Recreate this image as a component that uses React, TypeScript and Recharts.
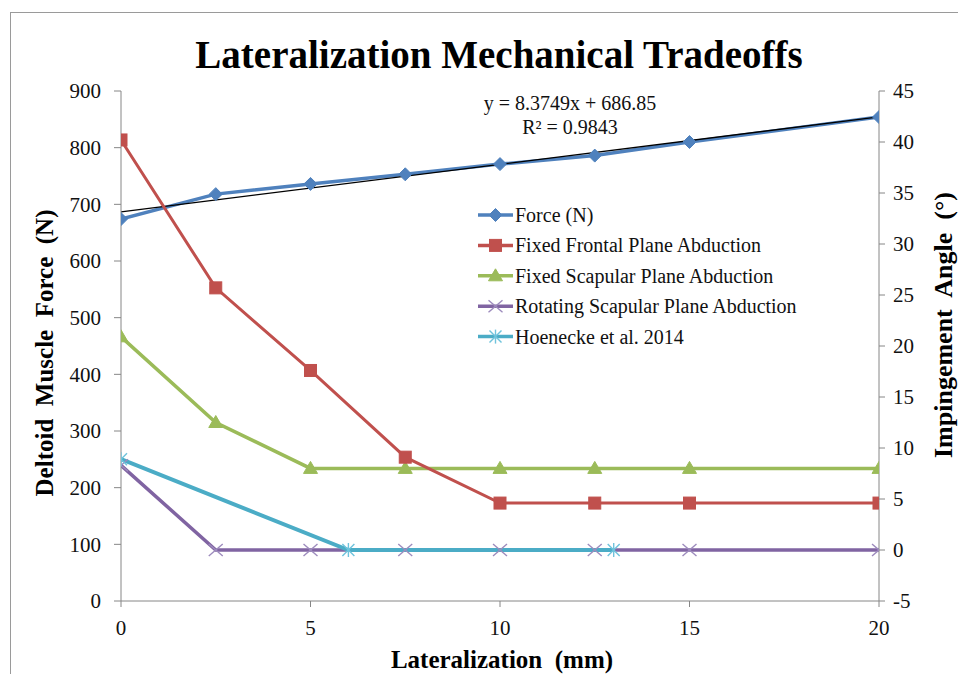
import React from 'react';
import { ComposedChart, Line, XAxis, YAxis, Legend } from 'recharts';

// ---- data ----
const lateralizationMm = [0, 2.5, 5, 7.5, 10, 12.5, 15, 20];
const forceN = [674, 718, 736, 753, 771, 786, 810, 854];
const fixedFrontalDeg = [40.2, 25.7, 17.6, 9.1, 4.6, 4.6, 4.6, 4.6];
const fixedScapularDeg = [20.9, 12.5, 8.0, 8.0, 8.0, 8.0, 8.0, 8.0];
const rotatingScapularDeg = [8.3, 0, 0, 0, 0, 0, 0, 0];
const hoeneckeMm = [0, 6, 13];
const hoeneckeDeg = [8.9, 0, 0];
const trendMm = [0, 20];
const trendForceN = [686.85, 854.35];

const xTicks = [0, 5, 10, 15, 20];
const leftTicks = [0, 100, 200, 300, 400, 500, 600, 700, 800, 900];
const rightTicks = [-5, 0, 5, 10, 15, 20, 25, 30, 35, 40, 45];

const seriesNames = [
  'Force (N)',
  'Fixed Frontal Plane Abduction',
  'Fixed Scapular Plane Abduction',
  'Rotating Scapular Plane Abduction',
  'Hoenecke et al. 2014',
];
const seriesColors = ['#4F81BD', '#C0504D', '#9BBB59', '#8064A2', '#4BACC6'];
const seriesMarkers = ['diamond', 'square', 'triangle', 'x', 'star'];

const titleText = 'Lateralization Mechanical Tradeoffs';
const xTitle = 'Lateralization  (mm)';
const leftTitle = 'Deltoid  Muscle  Force  (N)';
const rightTitle = 'Impingement  Angle  (°)';
const eqLine1 = 'y = 8.3749x + 686.85';
const eqLine2 = 'R² = 0.9843';

const zip = (xs: number[], ys: number[]) => xs.map((x, i) => ({ x, y: ys[i] }));

const forceData = zip(lateralizationMm, forceN);
const frontalData = zip(lateralizationMm, fixedFrontalDeg);
const scapularData = zip(lateralizationMm, fixedScapularDeg);
const rotatingData = zip(lateralizationMm, rotatingScapularDeg);
const hoeneckeData = zip(hoeneckeMm, hoeneckeDeg);
const trendData = zip(trendMm, trendForceN);

const FONT = 'Liberation Serif';

function Marker({ type, cx, cy, color }: { type: string; cx: number; cy: number; color: string }) {
  if (cx == null || cy == null || isNaN(cx) || isNaN(cy)) return null;
  switch (type) {
    case 'diamond':
      return (
        <polygon
          points={`${cx},${cy - 6.5} ${cx + 6.5},${cy} ${cx},${cy + 6.5} ${cx - 6.5},${cy}`}
          fill={color}
          stroke={color}
        />
      );
    case 'square':
      return <rect x={cx - 6} y={cy - 6} width={12} height={12} fill={color} stroke={color} />;
    case 'triangle':
      return (
        <polygon
          points={`${cx},${cy - 7} ${cx + 7},${cy + 5} ${cx - 7},${cy + 5}`}
          fill={color}
          stroke={color}
        />
      );
    case 'x':
      return (
        <g stroke="#9d8bbd" strokeWidth={1.4}>
          <line x1={cx - 7} y1={cy - 6} x2={cx + 7} y2={cy + 6} />
          <line x1={cx - 7} y1={cy + 6} x2={cx + 7} y2={cy - 6} />
        </g>
      );
    case 'star':
      return (
        <g stroke="#6fc3dc" strokeWidth={1.4}>
          <line x1={cx - 6} y1={cy - 6} x2={cx + 6} y2={cy + 6} />
          <line x1={cx - 6} y1={cy + 6} x2={cx + 6} y2={cy - 6} />
          <line x1={cx} y1={cy - 7} x2={cx} y2={cy + 7} />
        </g>
      );
    default:
      return null;
  }
}

const dotFor = (idx: number) => (props: any) => (
  <Marker
    key={`m-${idx}-${props.index}`}
    type={seriesMarkers[idx]}
    cx={props.cx}
    cy={props.cy}
    color={seriesColors[idx]}
  />
);

const renderLegend = () => (
  <svg width={380} height={160} style={{ overflow: 'visible' }}>
    {seriesNames.map((name, i) => {
      const y = 12 + i * 30.4;
      return (
        <g key={name}>
          <line x1={6} y1={y} x2={41} y2={y} stroke={seriesColors[i]} strokeWidth={3.5} />
          <Marker type={seriesMarkers[i]} cx={23.5} cy={y} color={seriesColors[i]} />
          <text x={43} y={y} dy="0.35em" fontFamily={FONT} fontSize={20} fill="#111">
            {name}
          </text>
        </g>
      );
    })}
  </svg>
);

const tickStyle = { fontSize: 21, fontFamily: FONT, fill: '#111' };
const axisStroke = '#868686';

export default function App() {
  return (
    <div
      style={{
        position: 'absolute',
        left: 0,
        top: 0,
        width: 958,
        height: 674,
        background: '#fff',
        fontFamily: FONT,
      }}
    >
      <svg
        width={958}
        height={674}
        style={{ position: 'absolute', left: 0, top: 0, pointerEvents: 'none' }}
      >
        <rect x={10.5} y={12.5} width={1000} height={700} fill="none" stroke="#9a9a9a" strokeWidth={1} />
      </svg>
      <div style={{ position: 'absolute', left: 0, top: 0 }}>
        <ComposedChart width={958} height={674} margin={{ top: 91, right: 0, bottom: 0, left: 0 }}>
          <XAxis
            dataKey="x"
            type="number"
            domain={[0, 20]}
            ticks={xTicks}
            allowDataOverflow
            height={73}
            tick={tickStyle}
            tickSize={6}
            tickMargin={13}
            stroke={axisStroke}
            tickLine={{ stroke: axisStroke }}
          />
          <YAxis
            yAxisId="left"
            orientation="left"
            domain={[0, 900]}
            ticks={leftTicks}
            allowDataOverflow
            width={121}
            tick={tickStyle}
            tickSize={7}
            tickMargin={13}
            stroke={axisStroke}
            tickLine={{ stroke: axisStroke }}
          />
          <YAxis
            yAxisId="right"
            orientation="right"
            domain={[-5, 45]}
            ticks={rightTicks}
            allowDataOverflow
            width={79}
            tick={tickStyle}
            tickSize={6}
            tickMargin={8}
            stroke={axisStroke}
            tickLine={{ stroke: axisStroke }}
          />
          <Legend
            layout="vertical"
            align="center"
            verticalAlign="middle"
            content={renderLegend}
            wrapperStyle={{ position: 'absolute', left: 472, top: 203, width: 380, height: 160 }}
          />
          <Line
            data={forceData}
            dataKey="y"
            yAxisId="left"
            name={seriesNames[0]}
            stroke={seriesColors[0]}
            strokeWidth={3.5}
            dot={dotFor(0)}
            activeDot={false}
            isAnimationActive={false}
          />
          <Line
            data={trendData}
            dataKey="y"
            yAxisId="left"
            name="Linear (Force (N))"
            legendType="none"
            stroke="#000"
            strokeWidth={1.3}
            dot={false}
            activeDot={false}
            isAnimationActive={false}
          />
          <Line
            data={scapularData}
            dataKey="y"
            yAxisId="right"
            name={seriesNames[2]}
            stroke={seriesColors[2]}
            strokeWidth={3.5}
            dot={dotFor(2)}
            activeDot={false}
            isAnimationActive={false}
          />
          <Line
            data={frontalData}
            dataKey="y"
            yAxisId="right"
            name={seriesNames[1]}
            stroke={seriesColors[1]}
            strokeWidth={3}
            dot={dotFor(1)}
            activeDot={false}
            isAnimationActive={false}
          />
          <Line
            data={rotatingData}
            dataKey="y"
            yAxisId="right"
            name={seriesNames[3]}
            stroke={seriesColors[3]}
            strokeWidth={3.5}
            dot={dotFor(3)}
            activeDot={false}
            isAnimationActive={false}
          />
          <Line
            data={hoeneckeData}
            dataKey="y"
            yAxisId="right"
            name={seriesNames[4]}
            stroke={seriesColors[4]}
            strokeWidth={4}
            dot={dotFor(4)}
            activeDot={false}
            isAnimationActive={false}
          />
        </ComposedChart>
      </div>
      <svg
        width={958}
        height={674}
        style={{ position: 'absolute', left: 0, top: 0, pointerEvents: 'none' }}
      >
        <text x={499} y={68} textAnchor="middle" fontFamily={FONT} fontWeight="bold" fontSize={39} fill="#000">
          {titleText}
        </text>
        <text
          x={502}
          y={668}
          textAnchor="middle"
          fontFamily={FONT}
          fontWeight="bold"
          fontSize={25}
          fill="#000"
          style={{ whiteSpace: 'pre' }}
        >
          {xTitle}
        </text>
        <text
          transform="translate(53,353) rotate(-90)"
          textAnchor="middle"
          fontFamily={FONT}
          fontWeight="bold"
          fontSize={25}
          fill="#000"
          style={{ whiteSpace: 'pre' }}
        >
          {leftTitle}
        </text>
        <text
          transform="translate(952,325) rotate(-90)"
          textAnchor="middle"
          fontFamily={FONT}
          fontWeight="bold"
          fontSize={26}
          fill="#000"
          style={{ whiteSpace: 'pre' }}
        >
          {rightTitle}
        </text>
        <text x={570} y={110} textAnchor="middle" fontFamily={FONT} fontSize={20} fill="#111">
          {eqLine1}
        </text>
        <text x={570} y={134} textAnchor="middle" fontFamily={FONT} fontSize={20} fill="#111">
          {eqLine2}
        </text>
      </svg>
    </div>
  );
}
